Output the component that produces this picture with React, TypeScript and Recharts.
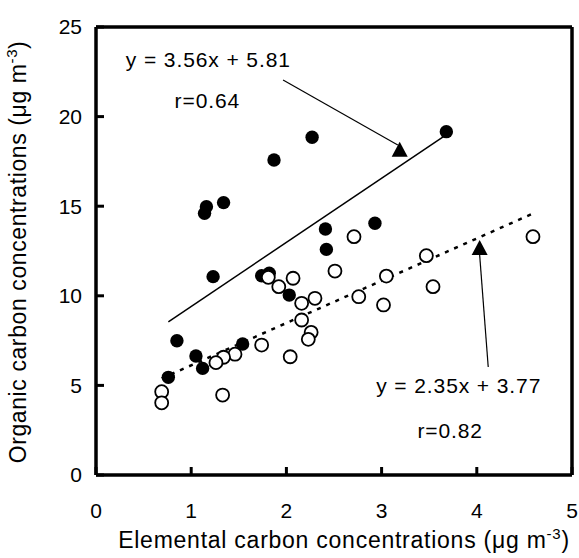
import {
  ScatterChart,
  Scatter,
  XAxis,
  YAxis,
  ReferenceLine,
  ReferenceDot,
  Label,
} from "recharts";

// filled circles
const ecFilled = [3.68, 2.27, 1.87, 1.16, 1.14, 1.34, 2.41, 2.93, 2.42, 1.23, 1.74, 1.82, 2.03, 0.85, 1.05, 1.12, 1.54, 0.76];
const ocFilled = [19.16, 18.85, 17.58, 14.97, 14.6, 15.2, 13.73, 14.05, 12.59, 11.07, 11.12, 11.26, 10.04, 7.49, 6.64, 5.95, 7.31, 5.45];

// open circles
const ecOpen = [4.59, 2.71, 2.51, 3.47, 3.05, 3.54, 2.76, 3.02, 1.81, 2.07, 1.92, 2.3, 2.16, 2.16, 2.26, 2.23, 2.04, 1.74, 1.46, 1.34, 1.26, 1.33, 0.69, 0.69];
const ocOpen = [13.3, 13.3, 11.38, 12.24, 11.1, 10.51, 9.95, 9.49, 11.03, 10.98, 10.51, 9.86, 9.58, 8.65, 7.96, 7.57, 6.6, 7.25, 6.74, 6.57, 6.27, 4.46, 4.65, 4.03];

// fitted lines (end points as drawn)
const fitFilledX = [0.76, 3.65];
const fitFilledY = [8.55, 18.88];
const fitOpenX = [0.69, 4.61];
const fitOpenY = [5.39, 14.64];

// arrows pointing at the fits
const arrowStartX = [1.965, 4.12];
const arrowStartY = [22.04, 6.03];
const arrowEndX = [3.17, 4.03];
const arrowEndY = [18.42, 12.28];
const arrowHeadX = [3.19, 4.03];
const arrowHeadY = [18.6, 13.11];

const annotations = ["y = 3.56x + 5.81", "r=0.64", "y = 2.35x + 3.77", "r=0.82"];
const annotationX = [1.18, 1.17, 3.81, 3.72];
const annotationY = [23.16, 20.9, 4.99, 2.48];

const xTicks = [0, 1, 2, 3, 4, 5];
const yTicks = [0, 5, 10, 15, 20, 25];

const zip = (xs: number[], ys: number[]) => xs.map((x, i) => ({ x, y: ys[i] }));

const filledData = zip(ecFilled, ocFilled);
const openData = zip(ecOpen, ocOpen);
const fitFilled = zip(fitFilledX, fitFilledY);
const fitOpen = zip(fitOpenX, fitOpenY);
const heads = zip(arrowHeadX, arrowHeadY);

const FONT = '"Liberation Sans", Arial, Helvetica, sans-serif';

const FilledDot = (p: any) => <circle cx={p.cx} cy={p.cy} r={6.7} fill="#000" />;
const OpenDot = (p: any) => (
  <circle cx={p.cx} cy={p.cy} r={6.5} fill="#fff" stroke="#000" strokeWidth={1.8} />
);
const NoDot = () => <g />;
const Head = (p: any) => (
  <path
    d={`M${p.cx},${p.cy} L${p.cx + 8},${p.cy + 15} L${p.cx - 8},${p.cy + 15} Z`}
    fill="#000"
  />
);

const XTitle = () => (
  <text x={344} y={548} textAnchor="middle" fontSize={23} fill="#000" letterSpacing={0.75}>
    Elemental carbon concentrations (μg m
    <tspan dy={-9} fontSize={15}>-3</tspan>
    <tspan dy={9}>)</tspan>
  </text>
);

const YTitle = () => (
  <text
    x={247}
    y={26}
    transform="rotate(-90 26 247) translate(-226 221)"
    textAnchor="middle"
    fontSize={23}
    fill="#000"
    letterSpacing={0.6}
  >
    Organic carbon concentrations (μg m
    <tspan dy={-9} fontSize={15}>-3</tspan>
    <tspan dy={9}>)</tspan>
  </text>
);

export default function App() {
  return (
    <div
      style={{
        position: "absolute",
        left: 0,
        top: 0,
        width: 579,
        height: 558,
        background: "#fff",
        fontFamily: FONT,
      }}
    >
      <ScatterChart width={579} height={558} margin={{ top: 27, right: 7, bottom: 0, left: 0 }}>
        <XAxis
          type="number"
          dataKey="x"
          domain={[0, 5]}
          ticks={xTicks}
          interval={0}
          height={83}
          tickSize={-8}
          tickMargin={36}
          axisLine={{ stroke: "#000", strokeWidth: 3.5 }}
          tickLine={{ stroke: "#000", strokeWidth: 3 }}
          tick={{ fill: "#000", fontSize: 21, fontFamily: FONT }}
        >
          <Label content={XTitle} />
        </XAxis>
        <YAxis
          type="number"
          dataKey="y"
          domain={[0, 25]}
          ticks={yTicks}
          interval={0}
          width={96}
          tickSize={-8}
          tickMargin={22}
          axisLine={{ stroke: "#000", strokeWidth: 3.5 }}
          tickLine={{ stroke: "#000", strokeWidth: 3 }}
          tick={{ fill: "#000", fontSize: 21, fontFamily: FONT }}
        >
          <Label content={YTitle} />
        </YAxis>
        <ReferenceLine y={25} stroke="#000" strokeWidth={3.5} />
        <ReferenceLine x={5} stroke="#000" strokeWidth={3.5} />

        {arrowStartX.map((x, i) => (
          <ReferenceLine
            key={"arrow" + i}
            segment={[
              { x, y: arrowStartY[i] },
              { x: arrowEndX[i], y: arrowEndY[i] },
            ]}
            stroke="#000"
            strokeWidth={1.2}
          />
        ))}

        <Scatter
          data={fitFilled}
          line={{ stroke: "#000", strokeWidth: 1.5 }}
          shape={NoDot}
          isAnimationActive={false}
        />
        <Scatter
          data={fitOpen}
          line={{ stroke: "#000", strokeWidth: 2.5, strokeDasharray: "4 6" }}
          shape={NoDot}
          isAnimationActive={false}
        />
        <Scatter data={filledData} shape={FilledDot} isAnimationActive={false} />
        <Scatter data={openData} shape={OpenDot} isAnimationActive={false} />
        <Scatter data={heads} shape={Head} isAnimationActive={false} />

        {annotations.map((t, i) => (
          <ReferenceDot
            key={"ann" + i}
            x={annotationX[i]}
            y={annotationY[i]}
            r={0}
            shape={(p: any) => (
              <text
                x={p.cx}
                y={p.cy + 7.5}
                textAnchor="middle"
                fontSize={21}
                fill="#000"
                fontFamily={FONT}
                letterSpacing={0.9}
              >
                {t}
              </text>
            )}
          />
        ))}
      </ScatterChart>
    </div>
  );
}
